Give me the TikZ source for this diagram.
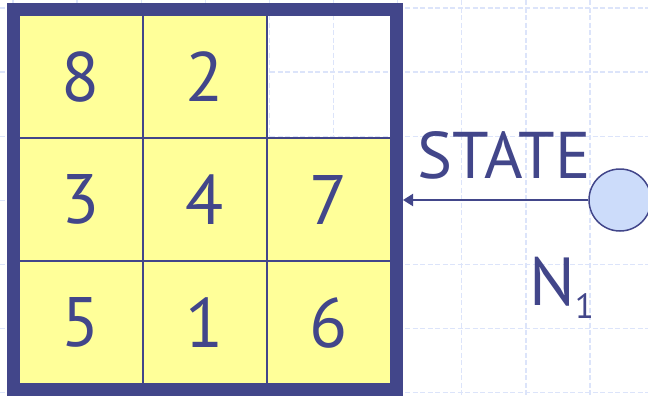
\documentclass[tikz,border=0pt]{standalone}
\usepackage{fontspec}
\setmainfont{PT Sans}
\usetikzlibrary{positioning,arrows.meta}
\definecolor{navy}{RGB}{66,70,138}
\definecolor{pad}{RGB}{255,255,153}
\definecolor{bubble}{RGB}{204,220,250}
\definecolor{gridblue}{RGB}{220,228,250}

\begin{document}
\begin{tikzpicture}[x=1pt, y=-1pt,
  cell/.style={draw=navy, line width=1.5pt, fill=pad, minimum width=124pt,
               minimum height=123pt, inner sep=0pt, outer sep=0pt,
               font=\fontsize{70}{70}\selectfont, text=navy},
  gridline/.style={draw=gridblue, line width=1.4pt, dash pattern=on 5pt off 2.5pt},
  arr/.style={-{Triangle[length=10pt,width=12pt]}, line width=2pt, draw=navy}]
\useasboundingbox (0,0) rectangle (648,397);
% background grid
\foreach \i in {0,...,9} \draw[gridline] (13+64.1*\i,0) -- (13+64.1*\i,397);
\foreach \j in {0,...,6} \draw[gridline] (0,8+64.1*\j) -- (648,8+64.1*\j);
% the board
\node[cell] (c1) at (81,76.5) {8};
\node[cell, right=0pt of c1] (c2) {2};
\node[cell, fill=none, right=0pt of c2] (c3) {};
\node[cell, below=0pt of c1] (c4) {3};
\node[cell, right=0pt of c4] (c5) {4};
\node[cell, right=0pt of c5] (c6) {7};
\node[cell, below=0pt of c4] (c7) {5};
\node[cell, right=0pt of c7] (c8) {1};
\node[cell, right=0pt of c8] (c9) {6};
\node[draw=navy, line width=12pt, minimum width=384pt, minimum height=381pt,
      inner sep=0pt] (board) at (205,199.5) {};
% search node
\node[circle, draw=navy, fill=bubble, line width=1.5pt, minimum size=62pt,
      inner sep=0pt] (st) at (620,200) {};
\draw[arr] (st) -- (st -| board.east);
\node[anchor=base west, inner sep=0pt, text=navy,
      font=\fontsize{66}{66}\selectfont] (lbl) at (417,178) {STATE};
\node[anchor=base west, inner sep=0pt, text=navy,
      font=\fontsize{68}{68}\selectfont] (name) at (529,305)
      {N\raisebox{-13pt}{\fontsize{35}{35}\selectfont 1}};
\end{tikzpicture}
\end{document}
